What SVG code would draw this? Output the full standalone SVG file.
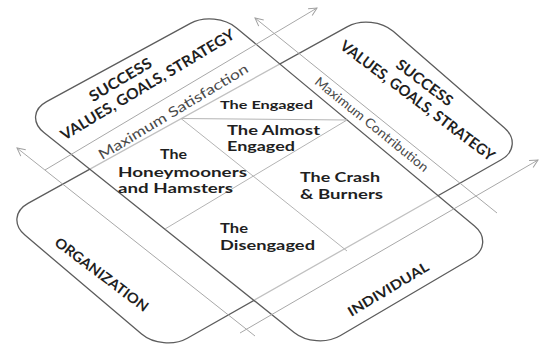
<svg xmlns="http://www.w3.org/2000/svg" width="540" height="349" viewBox="0 0 540 349">
<defs>
<marker id="ah" markerWidth="10" markerHeight="10" refX="9" refY="5" orient="auto" markerUnits="userSpaceOnUse"><path d="M1,1 L9,5 L1,9" fill="none" stroke="#a0a0a0" stroke-width="1"/></marker>
<style>
.edge{fill:none;stroke:#5c5c5c;stroke-width:1.3}
.veil{fill:#fff;fill-opacity:0.62;stroke:#5c5c5c;stroke-width:1.3}
.thin{stroke:#b4b4b4;stroke-width:1;fill:none}
.axis{stroke:#a8a8a8;stroke-width:1;fill:none;marker-end:url(#ah)}
.cap{font-family:Lato,"Open Sans","Liberation Sans",sans-serif;font-weight:700;fill:#1f1f1f;text-anchor:middle;dominant-baseline:central}
.band{font-family:Lato,"Open Sans","Liberation Sans",sans-serif;font-weight:400;fill:#4a4a4a;text-anchor:middle;dominant-baseline:central}
.seg{font-family:Lato,"Open Sans","Liberation Sans",sans-serif;font-weight:700;fill:#1f1f1f;font-size:13px}
</style>
</defs>
<rect width="540" height="349" fill="#fff"/>
<g id="organization">
<path class="edge" d="M28.0,203.4 L347.5,26.6 C361.0,19.1 381.5,21.2 393.2,31.3 L504.3,127.7 C516.0,137.8 514.6,152.2 501.2,159.8 L187.3,338.2 C173.9,345.8 153.4,343.9 141.6,333.9 L24.9,235.1 C13.1,225.1 14.5,210.9 28.0,203.4 Z"/>
</g>
<g id="individual">
<path class="veil" d="M46.6,101.6 L190.4,23.4 C204.0,16.0 224.6,18.0 236.5,27.9 L474.5,226.1 C486.4,236.0 485.2,250.4 471.9,258.2 L340.1,335.8 C326.8,343.6 306.2,342.2 294.1,332.5 L43.9,132.5 C31.8,122.8 33.0,109.0 46.6,101.6 Z"/>
</g>
<g id="connectors">
<path class="thin" d="M181,118.5 L347,120"/>
<path class="thin" d="M181,118.5 L347,251"/>
<path class="thin" d="M347,120 L165,229"/>
<path class="axis" d="M255,336 L17,148"/>
<path class="axis" d="M497,213 L255,18"/>
<path class="axis" d="M45,170 L317,8"/>
<path class="axis" d="M240,333 L538,160"/>
</g>
<g id="individual-success">
<text class="cap" font-size="15" textLength="70" lengthAdjust="spacingAndGlyphs" transform="translate(120,79) rotate(-31)">SUCCESS</text>
<text class="cap" font-size="15" textLength="200" lengthAdjust="spacingAndGlyphs" transform="translate(147,84) rotate(-31)">VALUES, GOALS, STRATEGY</text>
<text class="band" font-size="14" textLength="172" lengthAdjust="spacingAndGlyphs" transform="translate(173,111) rotate(-31)">Maximum Satisfaction</text>
</g>
<g id="organization-success">
<text class="cap" font-size="15" textLength="67" lengthAdjust="spacingAndGlyphs" transform="translate(425,82) rotate(37)">SUCCESS</text>
<text class="cap" font-size="15" textLength="189" lengthAdjust="spacingAndGlyphs" transform="translate(418,100) rotate(37)">VALUES, GOALS, STRATEGY</text>
<text class="band" font-size="13" textLength="142" lengthAdjust="spacingAndGlyphs" transform="translate(372,124) rotate(39)">Maximum Contribution</text>
</g>
<g id="organization-label">
<text class="cap" font-size="14" textLength="113" lengthAdjust="spacingAndGlyphs" transform="translate(102,274) rotate(37)">ORGANIZATION</text>
</g>
<g id="individual-label">
<text class="cap" font-size="13.5" textLength="92" lengthAdjust="spacingAndGlyphs" transform="translate(388,289) rotate(-31)">INDIVIDUAL</text>
</g>
<g id="engaged"><text class="seg" x="220" y="108.5" style="font-size:11px" textLength="93" lengthAdjust="spacingAndGlyphs">The Engaged</text></g>
<g id="almost-engaged">
<text class="seg" x="227" y="134.5" textLength="93" lengthAdjust="spacingAndGlyphs">The Almost</text>
<text class="seg" x="227" y="150.5" textLength="68" lengthAdjust="spacingAndGlyphs">Engaged</text>
</g>
<g id="honeymooners">
<text class="seg" x="160" y="158.5" textLength="27" lengthAdjust="spacingAndGlyphs">The</text>
<text class="seg" x="118" y="177" textLength="129" lengthAdjust="spacingAndGlyphs">Honeymooners</text>
<text class="seg" x="118" y="193" textLength="115" lengthAdjust="spacingAndGlyphs">and Hamsters</text>
</g>
<g id="crash-burners">
<text class="seg" x="300" y="181.5" textLength="80" lengthAdjust="spacingAndGlyphs">The Crash</text>
<text class="seg" x="300" y="199" textLength="83" lengthAdjust="spacingAndGlyphs">&amp; Burners</text>
</g>
<g id="disengaged">
<text class="seg" x="220" y="233.3" textLength="28" lengthAdjust="spacingAndGlyphs">The</text>
<text class="seg" x="220" y="249.5" textLength="95" lengthAdjust="spacingAndGlyphs">Disengaged</text>
</g>
</svg>
